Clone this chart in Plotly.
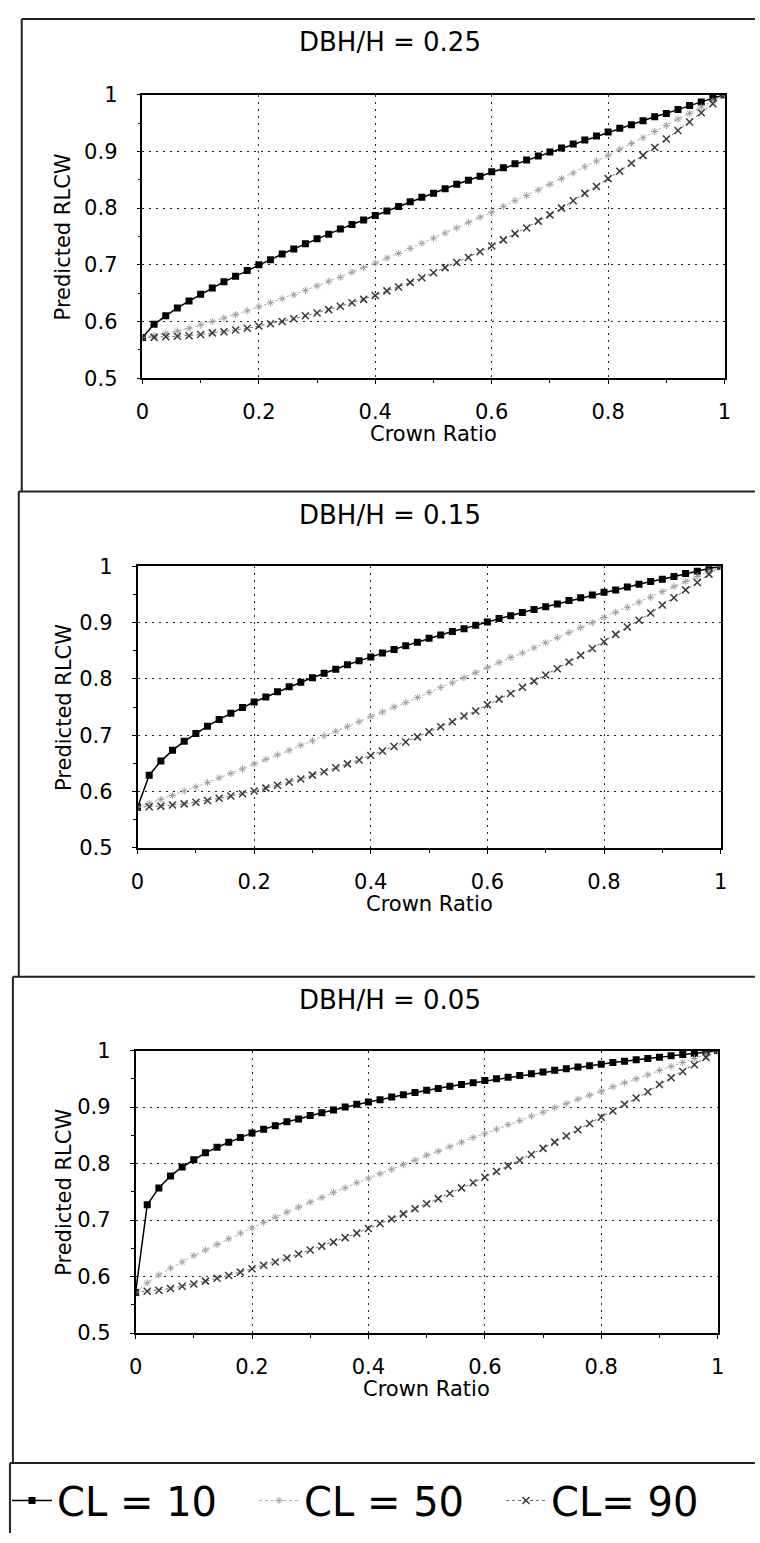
import plotly.graph_objects as go

# ---------------- data ----------------
crown_ratio = [0.00, 0.02, 0.04, 0.06, 0.08, 0.10, 0.12, 0.14, 0.16, 0.18,
               0.20, 0.22, 0.24, 0.26, 0.28, 0.30, 0.32, 0.34, 0.36, 0.38,
               0.40, 0.42, 0.44, 0.46, 0.48, 0.50, 0.52, 0.54, 0.56, 0.58,
               0.60, 0.62, 0.64, 0.66, 0.68, 0.70, 0.72, 0.74, 0.76, 0.78,
               0.80, 0.82, 0.84, 0.86, 0.88, 0.90, 0.92, 0.94, 0.96, 0.98, 1.00]

panel_titles = ["DBH/H = 0.25", "DBH/H = 0.15", "DBH/H = 0.05"]
series_names = ["CL = 10", "CL = 50", "CL= 90"]

# DBH/H = 0.25
rlcw_025_cl10 = [0.572, 0.595, 0.610, 0.624, 0.636, 0.648, 0.659, 0.670, 0.680, 0.690,
                 0.700, 0.709, 0.719, 0.728, 0.737, 0.746, 0.754, 0.763, 0.771, 0.779,
                 0.787, 0.795, 0.803, 0.811, 0.819, 0.826, 0.834, 0.842, 0.849, 0.856,
                 0.864, 0.871, 0.878, 0.885, 0.892, 0.899, 0.906, 0.913, 0.920, 0.927,
                 0.934, 0.941, 0.947, 0.954, 0.961, 0.967, 0.974, 0.981, 0.987, 0.994, 1.000]
rlcw_025_cl50 = [0.572, 0.575, 0.579, 0.583, 0.588, 0.594, 0.600, 0.606, 0.612, 0.619,
                 0.626, 0.633, 0.640, 0.647, 0.655, 0.663, 0.671, 0.678, 0.687, 0.695,
                 0.703, 0.712, 0.720, 0.729, 0.738, 0.747, 0.756, 0.765, 0.775, 0.784,
                 0.793, 0.803, 0.813, 0.822, 0.832, 0.842, 0.852, 0.862, 0.873, 0.883,
                 0.893, 0.904, 0.914, 0.924, 0.935, 0.946, 0.957, 0.967, 0.978, 0.989, 1.000]
rlcw_025_cl90 = [0.572, 0.572, 0.573, 0.574, 0.575, 0.577, 0.580, 0.582, 0.585, 0.588,
                 0.592, 0.596, 0.600, 0.605, 0.610, 0.615, 0.621, 0.627, 0.633, 0.639,
                 0.646, 0.654, 0.661, 0.669, 0.677, 0.686, 0.695, 0.704, 0.713, 0.723,
                 0.733, 0.744, 0.755, 0.765, 0.777, 0.788, 0.800, 0.813, 0.826, 0.838,
                 0.852, 0.865, 0.879, 0.893, 0.907, 0.922, 0.937, 0.952, 0.968, 0.984, 1.000]

# DBH/H = 0.15
rlcw_015_cl10 = [0.572, 0.629, 0.654, 0.673, 0.689, 0.703, 0.716, 0.728, 0.739, 0.749,
                 0.759, 0.768, 0.777, 0.786, 0.794, 0.802, 0.810, 0.817, 0.825, 0.832,
                 0.839, 0.846, 0.852, 0.859, 0.865, 0.872, 0.878, 0.884, 0.889, 0.895,
                 0.901, 0.907, 0.912, 0.918, 0.923, 0.928, 0.933, 0.939, 0.944, 0.949,
                 0.954, 0.958, 0.963, 0.968, 0.973, 0.977, 0.982, 0.987, 0.991, 0.996, 1.000]
rlcw_015_cl50 = [0.572, 0.579, 0.586, 0.593, 0.601, 0.608, 0.616, 0.624, 0.632, 0.640,
                 0.649, 0.657, 0.665, 0.673, 0.682, 0.690, 0.699, 0.707, 0.715, 0.724,
                 0.733, 0.741, 0.750, 0.758, 0.767, 0.776, 0.785, 0.793, 0.802, 0.811,
                 0.820, 0.829, 0.838, 0.846, 0.855, 0.864, 0.873, 0.882, 0.891, 0.900,
                 0.909, 0.918, 0.927, 0.936, 0.945, 0.955, 0.964, 0.973, 0.982, 0.991, 1.000]
rlcw_015_cl90 = [0.572, 0.573, 0.574, 0.576, 0.578, 0.581, 0.584, 0.588, 0.592, 0.596,
                 0.601, 0.606, 0.611, 0.617, 0.622, 0.629, 0.635, 0.642, 0.649, 0.656,
                 0.664, 0.672, 0.680, 0.688, 0.697, 0.706, 0.715, 0.724, 0.734, 0.743,
                 0.754, 0.764, 0.774, 0.785, 0.796, 0.807, 0.818, 0.830, 0.842, 0.854,
                 0.866, 0.879, 0.892, 0.904, 0.917, 0.931, 0.944, 0.958, 0.971, 0.986, 1.000]

# DBH/H = 0.05
rlcw_005_cl10 = [0.572, 0.727, 0.757, 0.778, 0.794, 0.807, 0.819, 0.829, 0.838, 0.846,
                 0.854, 0.861, 0.867, 0.874, 0.879, 0.885, 0.890, 0.895, 0.900, 0.905,
                 0.909, 0.913, 0.918, 0.922, 0.926, 0.930, 0.933, 0.937, 0.940, 0.943,
                 0.947, 0.950, 0.953, 0.956, 0.959, 0.962, 0.965, 0.968, 0.971, 0.973,
                 0.976, 0.979, 0.981, 0.984, 0.986, 0.988, 0.991, 0.993, 0.995, 0.998, 1.000]
rlcw_005_cl50 = [0.572, 0.589, 0.603, 0.615, 0.626, 0.637, 0.647, 0.657, 0.667, 0.677,
                 0.686, 0.696, 0.705, 0.714, 0.723, 0.732, 0.740, 0.749, 0.757, 0.766,
                 0.774, 0.782, 0.790, 0.798, 0.806, 0.815, 0.822, 0.830, 0.838, 0.846,
                 0.853, 0.861, 0.869, 0.876, 0.884, 0.891, 0.899, 0.906, 0.914, 0.921,
                 0.928, 0.936, 0.943, 0.950, 0.957, 0.965, 0.972, 0.979, 0.986, 0.993, 1.000]
rlcw_005_cl90 = [0.572, 0.574, 0.576, 0.579, 0.583, 0.587, 0.592, 0.597, 0.602, 0.608,
                 0.614, 0.620, 0.626, 0.633, 0.640, 0.647, 0.654, 0.661, 0.669, 0.677,
                 0.685, 0.694, 0.702, 0.711, 0.720, 0.729, 0.738, 0.747, 0.757, 0.766,
                 0.776, 0.786, 0.796, 0.806, 0.816, 0.827, 0.838, 0.849, 0.860, 0.871,
                 0.882, 0.893, 0.905, 0.916, 0.927, 0.940, 0.952, 0.963, 0.975, 0.988, 1.000]

x_tick_vals = [0, 0.2, 0.4, 0.6, 0.8, 1]
x_tick_text = ["0", "0.2", "0.4", "0.6", "0.8", "1"]
y_tick_vals = [0.5, 0.6, 0.7, 0.8, 0.9, 1]
y_tick_text = ["0.5", "0.6", "0.7", "0.8", "0.9", "1"]
x_title = "Crown Ratio"
y_title = "Predicted RLCW"

panel_series = [
    [rlcw_025_cl10, rlcw_025_cl50, rlcw_025_cl90],
    [rlcw_015_cl10, rlcw_015_cl50, rlcw_015_cl90],
    [rlcw_005_cl10, rlcw_005_cl50, rlcw_005_cl90],
]

# ---------------- layout geometry (pixels) ----------------
W, H = 760, 1543
FONT = "DejaVu Sans, Liberation Sans, Arial, sans-serif"

def fx(px):
    return px / W

def fy(py):
    return 1 - py / H

# plot-area boxes: left, right, top, bottom (pixels)
panel_boxes = [
    (138, 731, 84, 372),
    (133, 727, 563, 849),
    (131, 724, 1055, 1342),
]
title_y = [30, 511, 1004]
title_x = 390

styles = [
    dict(mode="lines+markers",
         line=dict(color="black", width=1.5),
         marker=dict(symbol="square", size=7, color="black")),
    dict(mode="lines+markers",
         line=dict(color="#b0b0b0", width=1, dash="dot"),
         marker=dict(symbol="asterisk-open", size=6, color="#a0a0a0",
                     line=dict(width=1, color="#a0a0a0"))),
    dict(mode="lines+markers",
         line=dict(color="#707070", width=1, dash="dot"),
         marker=dict(symbol="x-thin-open", size=7, color="#3a3a3a",
                     line=dict(width=1.5, color="#3a3a3a"))),
]

fig = go.Figure()
annotations = []
shapes = []

for p, (series, box) in enumerate(zip(panel_series, panel_boxes)):
    x0, x1, t, b = box
    suffix = "" if p == 0 else str(p + 1)
    for s, (vals, name) in enumerate(zip(series, series_names)):
        st = styles[s]
        fig.add_trace(go.Scatter(
            x=crown_ratio, y=vals, name=name,
            mode=st["mode"], line=st["line"], marker=st["marker"],
            xaxis="x" + suffix, yaxis="y" + suffix,
            showlegend=(p == 0),
        ))
    common = dict(
        showline=True, mirror=True, linecolor="black", linewidth=1.5,
        showgrid=True, gridcolor="#222222", gridwidth=1, griddash="2px,5px",
        zeroline=False, ticks="outside", ticklen=4, tickcolor="black",
        tickfont=dict(family=FONT, size=21, color="black"),
    )
    fig.update_layout(**{
        "xaxis" + suffix: dict(
            domain=[fx(x0), fx(x1)], anchor="y" + suffix, range=[0, 1],
            tickvals=x_tick_vals, ticktext=x_tick_text, ticklabelstandoff=10,
            minor=dict(ticks="outside", ticklen=3, dtick=0.1, tickcolor="black", showgrid=False),
            **common),
        "yaxis" + suffix: dict(
            domain=[fy(b), fy(t)], anchor="x" + suffix, range=[0.5, 1],
            tickvals=y_tick_vals, ticktext=y_tick_text, ticklabelstandoff=15,
            minor=dict(ticks="outside", ticklen=3, dtick=0.05, tickcolor="black", showgrid=False),
            **common),
    })
    annotations.append(dict(
        text=panel_titles[p], x=fx(title_x), y=fy(title_y[p]), xref="paper", yref="paper",
        xanchor="center", yanchor="middle", showarrow=False,
        font=dict(family=FONT, size=26, color="black")))
    annotations.append(dict(
        text=x_title, x=fx((x0 + x1) / 2), y=fy(b + 57), xref="paper", yref="paper",
        xanchor="center", yanchor="middle", showarrow=False,
        font=dict(family=FONT, size=21, color="black")))
    annotations.append(dict(
        text=y_title, x=fx(58), y=fy((t + b) / 2), xref="paper", yref="paper",
        xanchor="center", yanchor="middle", showarrow=False, textangle=-90,
        font=dict(family=FONT, size=21, color="black")))

# panel frames (scanned figure borders)
frame_lines = [
    (15, 7, 762, 7), (15, 7, 15, 487),
    (12, 487, 762, 487), (12, 487, 12, 980),
    (6, 980, 762, 980), (6, 980, 6, 1474),
    (3, 1474, 762, 1474), (3, 1474, 3, 1545),
]
for (ax, ay, bx, by) in frame_lines:
    shapes.append(dict(type="line", xref="paper", yref="paper",
                       x0=fx(ax), y0=fy(ay), x1=fx(bx), y1=fy(by),
                       line=dict(color="#222222", width=2)))

fig.update_layout(
    width=W, height=H, autosize=False,
    margin=dict(l=0, r=0, t=0, b=0),
    paper_bgcolor="white", plot_bgcolor="white",
    annotations=annotations, shapes=shapes,
    showlegend=True,
    legend=dict(orientation="h", x=0, y=fy(1512), xanchor="left", yanchor="middle",
                font=dict(family=FONT, size=40, color="black"),
                itemwidth=40, entrywidth=192, bgcolor="rgba(0,0,0,0)",
                tracegroupgap=0, itemclick=False),
)

fig.write_html("out.html", config={"displayModeBar": False},
               post_script="document.body.style.margin='0';")
